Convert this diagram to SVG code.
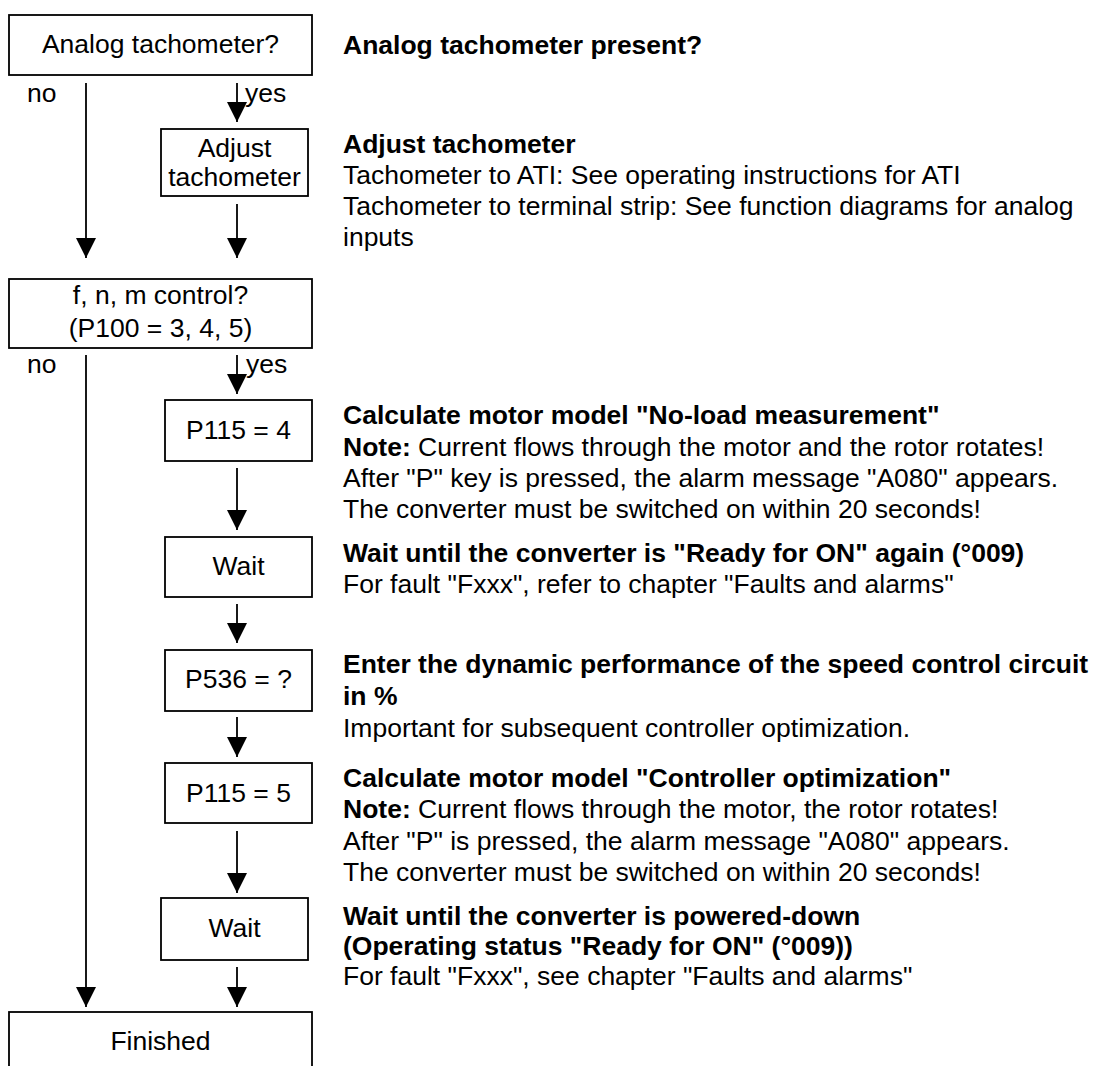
<svg xmlns="http://www.w3.org/2000/svg" width="1098" height="1066" viewBox="0 0 1098 1066">
<style>
.box{fill:#fff;stroke:#000;stroke-width:1.8}
.t{font-family:"Liberation Sans",Arial,sans-serif;font-size:26.5px;fill:#000}
.c{text-anchor:middle}
.b{font-weight:bold}
.ln{stroke:#000;stroke-width:1.8;fill:none}
</style>
<defs>
<marker id="ah" markerWidth="20" markerHeight="20" refX="20" refY="10" orient="auto" markerUnits="userSpaceOnUse">
<path d="M0,0 L20,10 L0,20 Z" fill="#000"/>
</marker>
</defs>
<rect width="1098" height="1066" fill="#fff"/>
<g id="connectors">
<line class="ln" x1="86" y1="83" x2="86" y2="258" marker-end="url(#ah)"/>
<line class="ln" x1="237" y1="83" x2="237" y2="122" marker-end="url(#ah)"/>
<line class="ln" x1="237" y1="204" x2="237" y2="258" marker-end="url(#ah)"/>
<line class="ln" x1="86" y1="355" x2="86" y2="1007" marker-end="url(#ah)"/>
<line class="ln" x1="237" y1="355" x2="237" y2="394" marker-end="url(#ah)"/>
<line class="ln" x1="237" y1="468" x2="237" y2="530" marker-end="url(#ah)"/>
<line class="ln" x1="237" y1="604" x2="237" y2="643" marker-end="url(#ah)"/>
<line class="ln" x1="237" y1="717" x2="237" y2="757" marker-end="url(#ah)"/>
<line class="ln" x1="237" y1="831" x2="237" y2="893" marker-end="url(#ah)"/>
<line class="ln" x1="237" y1="967" x2="237" y2="1007" marker-end="url(#ah)"/>
<text class="t" x="27" y="102">no</text>
<text class="t" x="245" y="102">yes</text>
<text class="t" x="27" y="373">no</text>
<text class="t" x="246" y="373">yes</text>
</g>
<g id="n1">
<rect class="box" x="9" y="15" width="303" height="60"/>
<text class="t c" x="160.5" y="53">Analog tachometer?</text>
</g>
<g id="n2">
<rect class="box" x="161" y="129" width="147" height="67"/>
<text class="t c" x="234.5" y="157">Adjust</text>
<text class="t c" x="234.5" y="186">tachometer</text>
</g>
<g id="n3">
<rect class="box" x="9" y="279" width="303" height="69"/>
<text class="t c" x="160.5" y="304">f, n, m control?</text>
<text class="t c" x="160.5" y="337">(P100 = 3, 4, 5)</text>
</g>
<g id="n4">
<rect class="box" x="165" y="400" width="147" height="61"/>
<text class="t c" x="238.5" y="439">P115 = 4</text>
</g>
<g id="n5">
<rect class="box" x="165" y="537" width="147" height="60"/>
<text class="t c" x="238.5" y="575">Wait</text>
</g>
<g id="n6">
<rect class="box" x="165" y="650" width="147" height="61"/>
<text class="t c" x="238.5" y="688">P536 = ?</text>
</g>
<g id="n7">
<rect class="box" x="165" y="763" width="147" height="60"/>
<text class="t c" x="238.5" y="802">P115 = 5</text>
</g>
<g id="n8">
<rect class="box" x="161" y="898" width="147" height="62"/>
<text class="t c" x="234.5" y="937">Wait</text>
</g>
<g id="n9">
<rect class="box" x="9" y="1012" width="303" height="70"/>
<text class="t c" x="160.5" y="1050">Finished</text>
</g>
<g id="descriptions">
<text class="t b" x="343" y="54">Analog tachometer present?</text>
<text class="t b" x="343" y="153">Adjust tachometer</text>
<text class="t" x="343" y="184">Tachometer to ATI: See operating instructions for ATI</text>
<text class="t" x="343" y="215">Tachometer to terminal strip: See function diagrams for analog</text>
<text class="t" x="343" y="246">inputs</text>
<text class="t b" x="343" y="424">Calculate motor model "No-load measurement"</text>
<text class="t" x="343" y="456"><tspan class="b">Note:</tspan> Current flows through the motor and the rotor rotates!</text>
<text class="t" x="343" y="487">After "P" key is pressed, the alarm message "A080" appears.</text>
<text class="t" x="343" y="518">The converter must be switched on within 20 seconds!</text>
<text class="t b" x="343" y="562">Wait until the converter is "Ready for ON" again (°009)</text>
<text class="t" x="343" y="593">For fault "Fxxx", refer to chapter "Faults and alarms"</text>
<text class="t b" x="343" y="673">Enter the dynamic performance of the speed control circuit</text>
<text class="t b" x="343" y="705">in %</text>
<text class="t" x="343" y="737">Important for subsequent controller optimization.</text>
<text class="t b" x="343" y="787">Calculate motor model "Controller optimization"</text>
<text class="t" x="343" y="818"><tspan class="b">Note:</tspan> Current flows through the motor, the rotor rotates!</text>
<text class="t" x="343" y="850">After "P" is pressed, the alarm message "A080" appears.</text>
<text class="t" x="343" y="881">The converter must be switched on within 20 seconds!</text>
<text class="t b" x="343" y="925">Wait until the converter is powered-down</text>
<text class="t b" x="343" y="955">(Operating status "Ready for ON" (°009))</text>
<text class="t" x="343" y="985">For fault "Fxxx", see chapter "Faults and alarms"</text>
</g>
</svg>
